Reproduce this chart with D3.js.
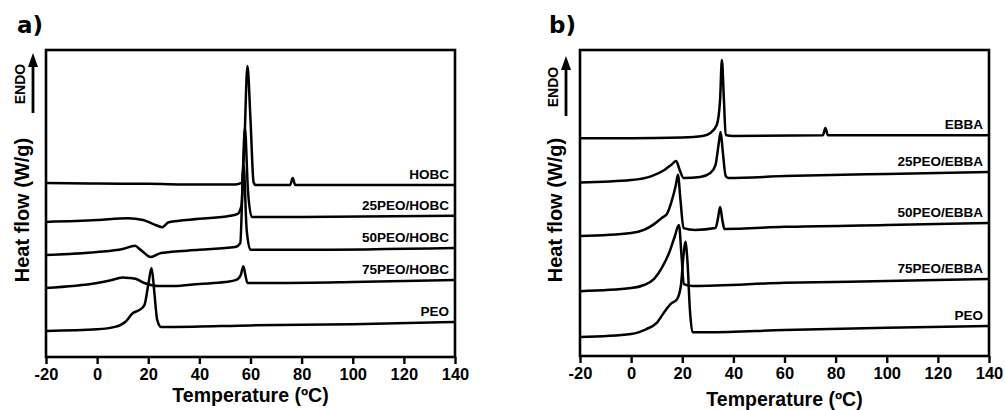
<!DOCTYPE html>
<html lang="en">
<head>
  <meta charset="UTF-8">
  <title>DSC curves</title>
  <script src="https://d3js.org/d3.v7.min.js" charset="utf-8"></script>
  <style>
    body { margin: 0; background: #fff; }
    text { font-family: "Liberation Sans", Arial, sans-serif; font-weight: bold; fill: #000; }
  </style>
</head>
<body>
</body>
<script>
  // temperature axis
  var xTicks = [-20, 0, 20, 40, 60, 80, 100, 120, 140]

  // panel a) heat flow, arbitrary units (0 = bottom of frame, 100 = top)
  var namesA = ['HOBC', '25PEO/HOBC', '50PEO/HOBC', '75PEO/HOBC', 'PEO']
  var hobc = [[-20,56.7],[0,56.5],[20,56.4],[40,56.2],[54,56.2],[56.5,56.7],[57.5,67.4],[58.8,94.8],[60,77.2],[61.2,57],[62,56],[75.5,56],[76.5,58.3],[77.5,56],[100,56],[140,56]]
  var peo25hobc = [[-20,44],[0,44.6],[12,45.2],[18,44.6],[22,43.3],[25.5,42.3],[28,43.9],[40,45],[52,46],[55,46.6],[56.5,49.5],[57.8,74.6],[59,54.4],[60.5,45.6],[80,45.6],[140,46]]
  var peo50hobc = [[-20,33.2],[0,34.2],[10,35.2],[14.8,36.2],[17,34.9],[21,32.6],[25,33.9],[40,34.9],[54,35.8],[56,37.1],[57.3,62.5],[58.5,41.4],[60,34.9],[80,34.9],[140,35.5]]
  var peo75hobc = [[-20,22.5],[0,24.1],[5,24.9],[10,25.9],[13,25.7],[15,25.5],[18.5,24.1],[24,23.1],[30,23.1],[40,23.8],[50,24.4],[54.5,25.1],[56.2,26.7],[57.2,29.6],[58,26.7],[58.8,24.1],[70,24.1],[100,24.4],[140,25.1]]
  var peoA = [[-20,8.5],[0,9],[7,9.8],[11,11.4],[14,14.3],[16.5,15.3],[18.5,16.9],[20,23.5],[21.3,29],[22.3,21.8],[23.5,12.1],[25,9.8],[30,9.8],[60,10.3],[100,10.7],[140,11.4]]

  // panel b)
  var namesB = ['EBBA', '25PEO/EBBA', '50PEO/EBBA', '75PEO/EBBA', 'PEO']
  var ebba = [[-20,71.2],[0,71.2],[20,71.4],[28,71.9],[31,72.9],[33.5,75.5],[34.8,83.7],[35.5,96.7],[36.3,83.7],[37,72.2],[40,71.9],[75,72.1],[76,74.5],[77,72.1],[100,72.1],[140,72.1]]
  var peo25ebba = [[-20,56.7],[0,57.5],[8,58.8],[13,60.8],[16,62.7],[17.6,63.7],[19,60.8],[20.5,58.2],[27,58.5],[31,59.8],[33,62.4],[34.2,69],[35,73.2],[35.8,67.3],[37,58.8],[38,58.2],[60,58.8],[100,59.5],[140,60.1]]
  var peo50ebba = [[-20,39.2],[0,40.2],[5,41.2],[9,43.1],[12,45.1],[14,46.4],[16,51],[17.5,55.9],[18.3,59.2],[19.3,51],[20.5,41.8],[25,41.2],[33,41.8],[34,45.1],[34.8,48.7],[35.7,44.4],[36.5,41.5],[60,42.2],[100,42.8],[140,43.5]]
  var peo75ebba = [[-20,21.2],[0,22.2],[5,23.2],[9,25.2],[12,28.8],[15,34],[17,38.9],[18.7,42.8],[19.7,33],[20.6,23.5],[24,22.9],[60,23.9],[100,24.5],[140,25.2]]
  var peoB = [[-20,6.2],[0,7.2],[6,8.8],[10,10.8],[13,14.4],[15.5,17],[18,18.6],[19.5,23.2],[20.5,33],[21.2,37.3],[22,31.4],[23,15],[24,7.8],[30,7.8],[60,8.5],[100,9.2],[140,9.8]]

  var svg = d3.select('body').append('svg').attr('width', 1005).attr('height', 410)

  function drawPanel(p) {
    var x = d3.scaleLinear().domain([-20, 140]).range([p.left, p.right])
    var y = d3.scaleLinear().domain([0, 100]).range([p.bottom, p.top])
    var g = svg.append('g')

    var line = d3.line()
      .x(function(d) { return x(d[0]) })
      .y(function(d) { return y(d[1]) })
      .curve(d3.curveMonotoneX)

    p.series.forEach(function(s, i) {
      g.append('path')
        .attr('d', line(s))
        .attr('fill', 'none')
        .attr('stroke', '#000')
        .attr('stroke-width', 2.5)
        .attr('stroke-linejoin', 'round')
      var last = s[s.length - 1]
      g.append('text')
        .attr('x', p.right - 6)
        .attr('y', y(last[1]) - 6)
        .attr('text-anchor', 'end')
        .style('font-size', '13.5px')
        .text(p.names[i])
    })

    // frame
    g.append('rect')
      .attr('x', p.left).attr('y', p.top)
      .attr('width', p.right - p.left).attr('height', p.bottom - p.top)
      .attr('fill', 'none').attr('stroke', '#000').attr('stroke-width', 2.6)

    var ax = g.append('g')
      .attr('transform', 'translate(0,' + p.bottom + ')')
      .call(d3.axisBottom(x).tickValues(xTicks).tickSize(7).tickPadding(4).tickFormat(function(d) { return String(d) }))
    ax.select('.domain').remove()
    ax.selectAll('line').attr('stroke-width', 2.4)
    ax.selectAll('text').style('font-size', '16.5px').style('font-family', '"Liberation Sans", Arial, sans-serif').style('font-weight', 'bold')

    g.append('text')
      .attr('x', (p.left + p.right) / 2)
      .attr('y', p.titleY)
      .attr('text-anchor', 'middle')
      .style('font-size', '19.5px')
      .text('Temperature (ºC)')

    g.append('text')
      .attr('transform', 'translate(' + p.yLabelX + ',210) rotate(-90)')
      .attr('text-anchor', 'middle')
      .attr('dy', '0.35em')
      .style('font-size', '20px')
      .text('Heat flow (W/g)')

    // ENDO arrow
    g.append('line')
      .attr('x1', p.arrowX).attr('x2', p.arrowX)
      .attr('y1', p.arrowTop + 10).attr('y2', p.arrowTop + 60)
      .attr('stroke', '#000').attr('stroke-width', 2.8)
    g.append('path')
      .attr('d', 'M' + p.arrowX + ',' + p.arrowTop + 'L' + (p.arrowX + 5) + ',' + (p.arrowTop + 14) + 'L' + (p.arrowX - 5) + ',' + (p.arrowTop + 14) + 'Z')
      .attr('fill', '#000')
    g.append('text')
      .attr('transform', 'translate(' + (p.arrowX - 13) + ',' + (p.arrowTop + 31) + ') rotate(-90)')
      .attr('text-anchor', 'middle')
      .attr('dy', '0.35em')
      .style('font-size', '14px')
      .text('ENDO')

    g.append('text')
      .attr('x', p.tagX).attr('y', 33)
      .style('font-size', '23px')
      .style('font-family', '"DejaVu Sans", Arial, sans-serif')
      .text(p.tag)
  }

  drawPanel({
    left: 46, right: 455, top: 50, bottom: 357,
    series: [hobc, peo25hobc, peo50hobc, peo75hobc, peoA], names: namesA,
    titleY: 402, yLabelX: 22, arrowX: 33, arrowTop: 53, tagX: 17, tag: 'a)'
  })
  drawPanel({
    left: 580, right: 989, top: 50, bottom: 356,
    series: [ebba, peo25ebba, peo50ebba, peo75ebba, peoB], names: namesB,
    titleY: 406, yLabelX: 555, arrowX: 566, arrowTop: 56, tagX: 549, tag: 'b)'
  })
</script>
</html>
